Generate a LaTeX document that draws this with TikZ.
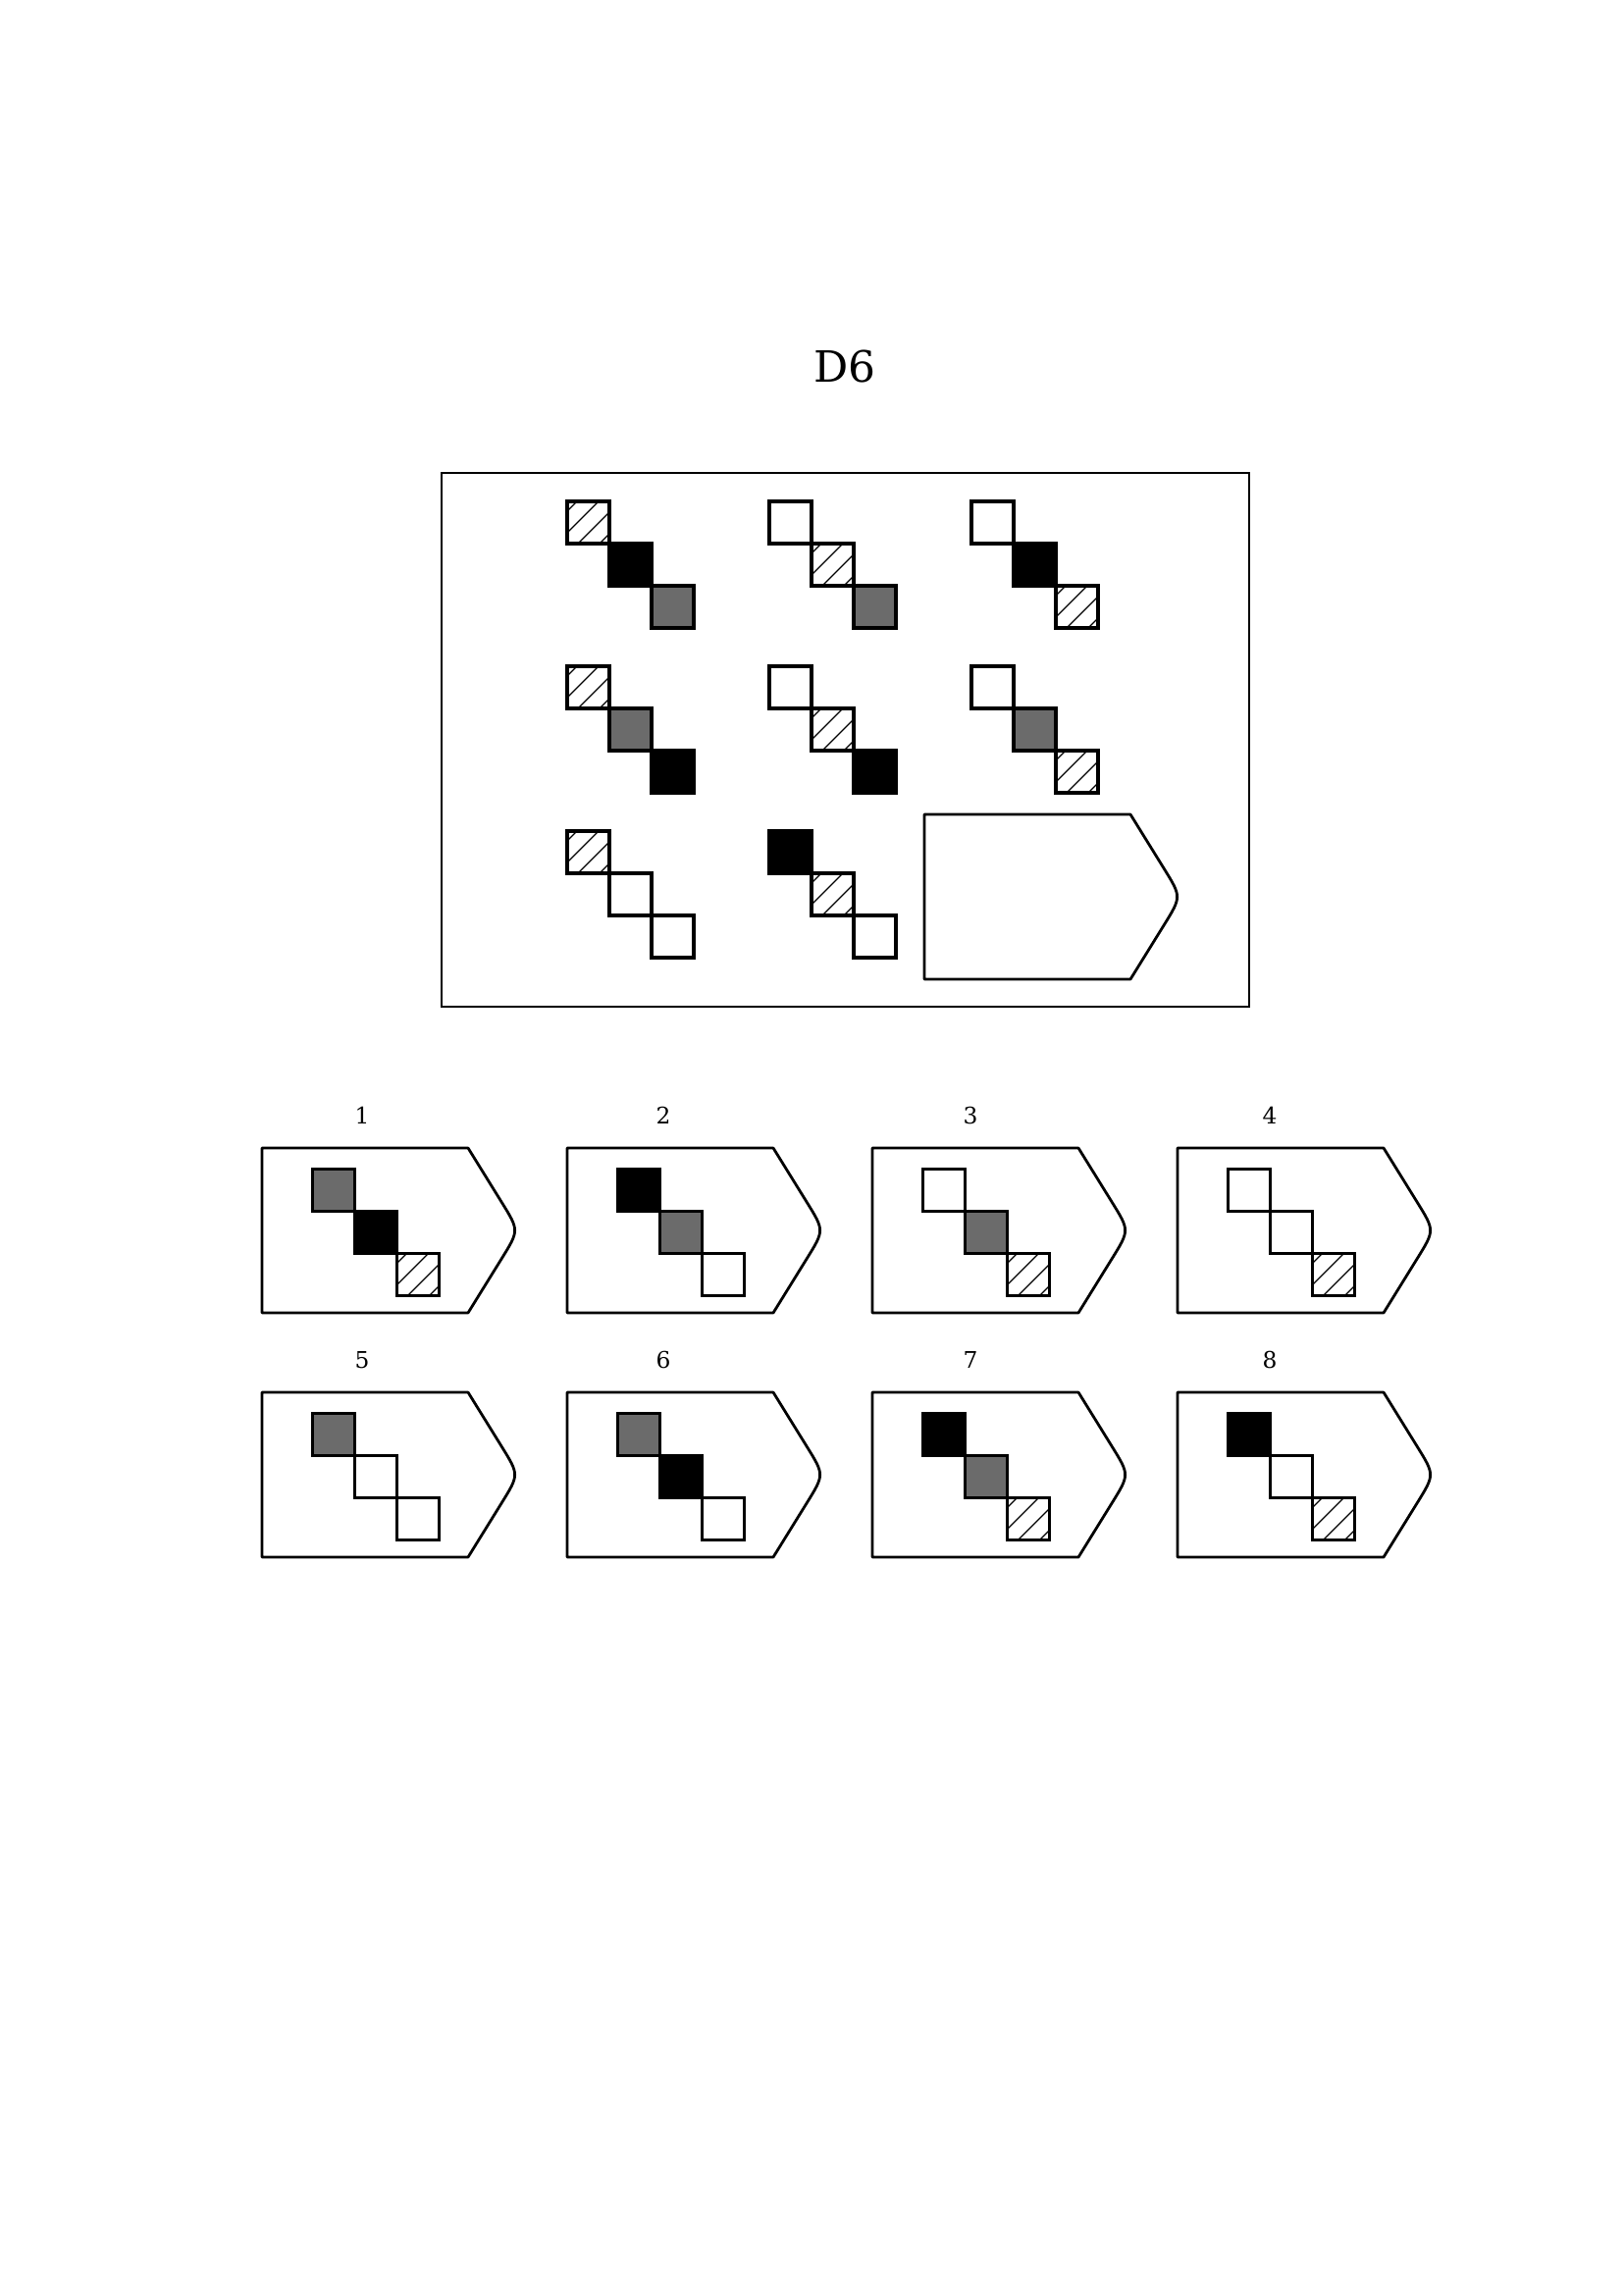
\documentclass[tikz,border=0pt]{standalone}
\usepackage{fontspec}
\setmainfont{DejaVu Serif}
\usetikzlibrary{calc}

\tikzset{
  sq/.style={line width=1.2pt, line join=miter},
  sqW/.style={fill=white},
  sqB/.style={fill=black},
  sqG/.style={fill=black!58},
  sqH/.style={fill=white, path picture={
      \foreach \d in {10,32,54,76}
        \draw[line width=0.45pt] ($(path picture bounding box.north west)+(\d,0)$)
          -- ($(path picture bounding box.north west)+(0,\d)$);}},
  card/.style={line width=1pt, line join=round},
  numlbl/.style={font=\fontsize{8.4}{10}\selectfont, inner sep=0pt}
}

% three squares meeting corner to corner, top-left at (#1,#2)
\newcommand{\chain}[5]{%
  \foreach \f [count=\i from 0] in {#3,#4,#5}
    \draw[sq,\f] ({#1+43*\i},{#2+43*\i}) rectangle ++(43,43);}

% answer card, top-left at (#1,#2)
\newcommand{\answercard}[2]{%
  \draw[card] (#1,#2) -- ({#1+210},#2) -- ({#1+244.5},{#2+55.7})
    .. controls ({#1+262},{#2+84}) .. ({#1+244.5},{#2+112.3})
    -- ({#1+210},{#2+168}) -- (#1,{#2+168}) -- cycle;}

\begin{document}
\begin{tikzpicture}[x=0.3598pt, y=-0.3598pt]
  \useasboundingbox (0,0) rectangle (1654,2339);

  % Title
  \node[font=\fontsize{15.8}{19}\selectfont] (title) at (861,374) {D6};

  % Matrix
  \draw[line width=1pt] (450,482) rectangle (1273,1026);
  \foreach \a/\b/\c [count=\k from 0] in {sqH/sqB/sqG, sqW/sqH/sqG, sqW/sqB/sqH,
      sqH/sqG/sqB, sqW/sqH/sqB, sqW/sqG/sqH, sqH/sqW/sqW, sqB/sqH/sqW} {
    \pgfmathtruncatemacro\col{mod(\k,3)}
    \pgfmathtruncatemacro\row{\k/3}
    \chain{578+206*\col}{511+168*\row}{\a}{\b}{\c}
  }
  \answercard{942}{830}

  % Options
  \foreach \n/\a/\b/\c [count=\k from 0] in {1/sqG/sqB/sqH, 2/sqB/sqG/sqW,
      3/sqW/sqG/sqH, 4/sqW/sqW/sqH, 5/sqG/sqW/sqW, 6/sqG/sqB/sqW,
      7/sqB/sqG/sqH, 8/sqB/sqW/sqH} {
    \pgfmathtruncatemacro\col{mod(\k,4)}
    \pgfmathtruncatemacro\row{\k/4}
    \pgfmathsetmacro\ox{267+311*\col}
    \pgfmathsetmacro\oy{1170+249*\row}
    \pgfmathsetmacro\lx{{102,98,100,94}[\col]}
    \answercard{\ox}{\oy}
    \chain{\ox+51.5}{\oy+21.5}{\a}{\b}{\c}
    \node[numlbl] (opt\n) at ({\ox+\lx},{\oy-33}) {\n};
  }
\end{tikzpicture}
\end{document}
